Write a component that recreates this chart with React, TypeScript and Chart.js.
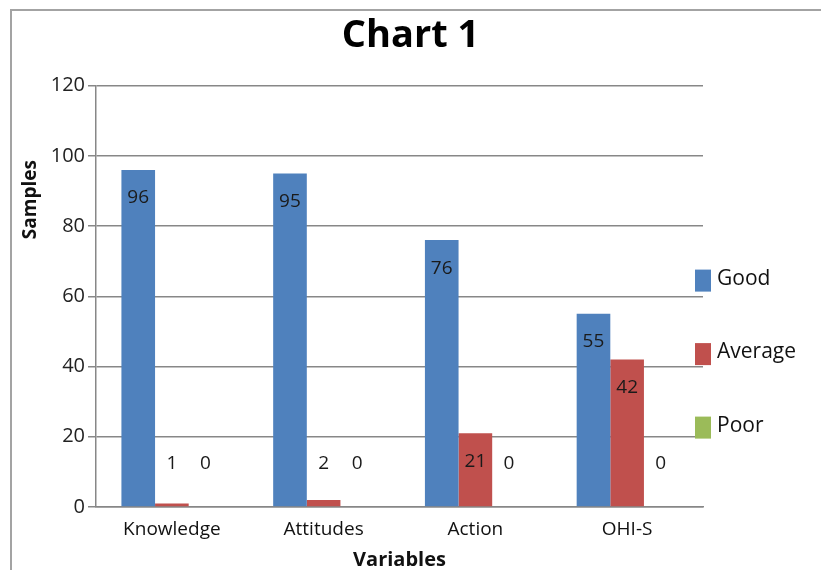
import React, { useEffect, useRef } from "react";
import { Chart, registerables } from "chart.js";

Chart.register(...registerables);

const categories = ["Knowledge", "Attitudes", "Action", "OHI-S"];
const goodValues = [96, 95, 76, 55];
const averageValues = [1, 2, 21, 42];
const poorValues = [0, 0, 0, 0];
const seriesNames = ["Good", "Average", "Poor"];
const seriesColors = ["#4f81bd", "#c0504d", "#9bbb59"];
const yTickMin = 0;
const yTickMax = 120;
const yTickStep = 20;
const chartTitle = "Chart 1";
const yTitle = "Samples";
const xTitle = "Variables";

const FONT = "'Open Sans', 'Liberation Sans', sans-serif";

const valueLabels = {
  id: "valueLabels",
  afterDatasetsDraw(chart: any) {
    const ctx = chart.ctx;
    const zero = chart.scales.y.getPixelForValue(0);
    ctx.save();
    ctx.font = `19px ${FONT}`;
    ctx.fillStyle = "#1a1a1a";
    ctx.textAlign = "center";
    ctx.textBaseline = "middle";
    chart.data.datasets.forEach((ds: any, i: number) => {
      const meta = chart.getDatasetMeta(i);
      meta.data.forEach((bar: any, j: number) => {
        const y = Math.min(bar.y + 28, zero - 43);
        ctx.fillText(String(ds.data[j]), bar.x, y);
      });
    });
    ctx.restore();
  },
};

const sideDecor = {
  id: "sideDecor",
  afterDraw(chart: any) {
    const ctx = chart.ctx;
    const area = chart.chartArea;
    ctx.save();
    // y axis title
    ctx.font = `bold 19px ${FONT}`;
    ctx.fillStyle = "#111";
    ctx.textAlign = "center";
    ctx.textBaseline = "middle";
    ctx.translate(31, area.top + 114);
    ctx.rotate(-Math.PI / 2);
    ctx.fillText(yTitle, 0, 0);
    ctx.restore();

    // legend
    ctx.save();
    ctx.font = `21px ${FONT}`;
    ctx.textAlign = "left";
    ctx.textBaseline = "middle";
    chart.data.datasets.forEach((ds: any, i: number) => {
      const cy = area.top + 195 + i * 73.5;
      const bx = area.right - 8;
      ctx.fillStyle = ds.backgroundColor;
      ctx.fillRect(bx, cy - 11, 16, 22);
      ctx.fillStyle = "#111";
      ctx.fillText(ds.label, bx + 22, cy - 2);
    });
    ctx.restore();
  },
};

export default function App() {
  const canvasRef = useRef<HTMLCanvasElement | null>(null);

  useEffect(() => {
    if (!canvasRef.current) return;
    const datasets = [goodValues, averageValues, poorValues].map((vals, i) => ({
      label: seriesNames[i],
      data: vals,
      backgroundColor: seriesColors[i],
      borderWidth: 0,
      categoryPercentage: 0.665,
      barPercentage: 1,
    }));
    const chart = new Chart(canvasRef.current, {
      type: "bar",
      data: { labels: categories, datasets },
      plugins: [valueLabels, sideDecor],
      options: {
        responsive: false,
        animation: false,
        devicePixelRatio: 1,
        layout: { padding: { left: 0, right: 0, top: 0, bottom: 0 } },
        plugins: {
          legend: { display: false },
          tooltip: { enabled: false },
          title: {
            display: true,
            text: chartTitle,
            color: "#000",
            font: { family: FONT, size: 38, weight: "bold", lineHeight: 1.2 },
            padding: { top: 13, bottom: 27 },
          },
        },
        scales: {
          x: {
            grid: { display: false, drawTicks: false },
            border: { display: true, color: "#878787", width: 1.5 },
            ticks: {
              color: "#111",
              font: { family: FONT, size: 19 },
              padding: 11,
              maxRotation: 0,
            },
            title: {
              display: true,
              text: xTitle,
              color: "#111",
              font: { family: FONT, size: 20, weight: "bold" },
              padding: { top: 0, bottom: -2 },
            },
            afterFit: (scale: any) => {
              scale.height = 63;
            },
          },
          y: {
            min: yTickMin,
            max: yTickMax,
            grid: {
              color: "#878787",
              lineWidth: 1.5,
              tickLength: 8,
              drawTicks: true,
            },
            border: { display: true, color: "#878787", width: 1.5 },
            ticks: {
              stepSize: yTickStep,
              color: "#222",
              font: { family: FONT, size: 20 },
              padding: 3,
            },
            afterFit: (scale: any) => {
              scale.width = 96;
            },
          },
          legendSpace: {
            type: "linear",
            position: "right",
            min: yTickMin,
            max: yTickMax,
            grid: { display: false, drawTicks: false },
            border: { display: false },
            ticks: { display: false },
            afterFit: (scale: any) => {
              scale.width = 118;
            },
          },
        },
      },
    });
    return () => chart.destroy();
  }, []);

  return (
    <div
      style={{
        position: "fixed",
        left: 0,
        top: 0,
        width: 821,
        height: 570,
        overflow: "hidden",
        background: "#fff",
      }}
    >
      <div
        style={{
          position: "absolute",
          left: 10,
          top: 9,
          width: 900,
          height: 700,
          borderLeft: "2px solid #a3a3a3",
          borderTop: "2px solid #a3a3a3",
        }}
      />
      <canvas
        ref={canvasRef}
        width={821}
        height={570}
        style={{ position: "absolute", left: 0, top: 0, width: 821, height: 570 }}
      />
    </div>
  );
}
